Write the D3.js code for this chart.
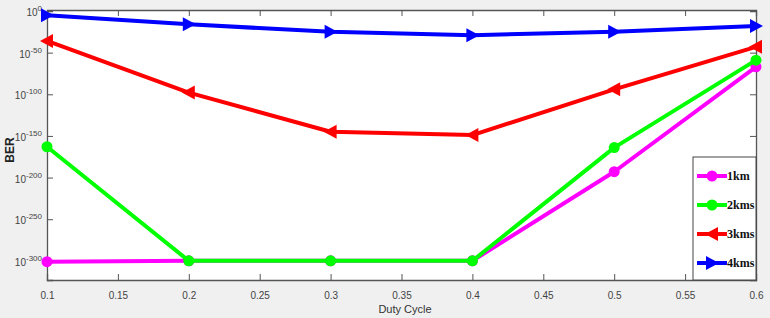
<!DOCTYPE html>
<html>
<head>
<meta charset="utf-8">
<script src="https://cdn.jsdelivr.net/npm/d3@7"></script>
<style>
  body { margin: 0; background: #f0f0f0; }
  svg { display: block; }
</style>
</head>
<body>
<div id="container"></div>
<script>
let w = 770;
let h = 318;

// duty cycle values
let duty = [0.1, 0.2, 0.3, 0.4, 0.5, 0.6];
// BER values as exponents of 10
let ber1km  = [-301, -300, -300, -300, -193, -67];
let ber2kms = [-163, -300, -300, -300, -164, -59];
let ber3kms = [-36, -98, -145, -149, -94, -43];
let ber4kms = [-5, -16, -25, -29, -25, -18];
let seriesNames = ["1km", "2kms", "3kms", "4kms"];
let xTicks = [0.1, 0.15, 0.2, 0.25, 0.3, 0.35, 0.4, 0.45, 0.5, 0.55, 0.6];
let yTicks = [0, -50, -100, -150, -200, -250, -300];

let padL = 47, padR = 756, padT = 10, padB = 280;

let viz = d3.select("#container").append("svg")
    .attr("width", w)
    .attr("height", h);

let x = d3.scaleLinear().domain([0.1, 0.6]).range([padL, padR]);
let y = d3.scaleLinear().domain([-323, 0]).range([padB, 11]);

// axes background
viz.append("rect")
    .attr("x", padL).attr("y", padT)
    .attr("width", padR - padL).attr("height", padB - padT)
    .attr("fill", "white");

let axisColor = "#555";

// bottom + top ticks
let xAxis = viz.append("g").attr("transform", "translate(0," + padB + ")")
    .call(d3.axisBottom(x).tickValues(xTicks).tickSize(-6).tickPadding(12)
        .tickFormat(d => String(+d.toFixed(2))));
let xTop = viz.append("g").attr("transform", "translate(0," + padT + ")")
    .call(d3.axisTop(x).tickValues(xTicks).tickSize(-6).tickFormat(""));
let yAxis = viz.append("g").attr("transform", "translate(" + padL + ",0)")
    .call(d3.axisLeft(y).tickValues(yTicks).tickSize(-6).tickFormat(""));
let yRight = viz.append("g").attr("transform", "translate(" + padR + ",0)")
    .call(d3.axisRight(y).tickValues(yTicks).tickSize(-6).tickFormat(""));

[xAxis, xTop, yAxis, yRight].forEach(function(a){
  a.selectAll("path").attr("stroke", axisColor).attr("stroke-width", 1.3);
  a.selectAll("line").attr("stroke", axisColor);
});
xAxis.selectAll("text")
    .attr("fill", "#444")
    .attr("font-family", "Arial, Liberation Sans, sans-serif")
    .attr("font-size", 10);

// y tick labels as 10^n
yTicks.forEach(function(t){
  let lab = viz.append("text")
      .attr("x", padL - 5)
      .attr("y", y(t) + 5)
      .attr("text-anchor", "end")
      .attr("fill", "#444")
      .attr("font-family", "Arial, Liberation Sans, sans-serif")
      .attr("font-size", 10);
  lab.append("tspan").text("10");
  lab.append("tspan").attr("dy", -5).attr("font-size", 8).text(String(t));
});

// axis labels
viz.append("text")
    .attr("transform", "translate(14,150) rotate(-90)")
    .attr("text-anchor", "middle")
    .attr("font-family", "Arial, Liberation Sans, sans-serif")
    .attr("font-size", 12)
    .attr("font-weight", "bold")
    .attr("fill", "#222")
    .text("BER");
viz.append("text")
    .attr("x", 405).attr("y", 313)
    .attr("text-anchor", "middle")
    .attr("font-family", "Arial, Liberation Sans, sans-serif")
    .attr("font-size", 11)
    .attr("fill", "#333")
    .text("Duty Cycle");

let series = [
  {name: seriesNames[0], values: ber1km, color: "#ff00ff", marker: "circle"},
  {name: seriesNames[1], values: ber2kms, color: "#00ff00", marker: "circle"},
  {name: seriesNames[2], values: ber3kms, color: "#ff0000", marker: "left"},
  {name: seriesNames[3], values: ber4kms, color: "#0000ff", marker: "right"}
];

let line = d3.line().x(d => x(d[0])).y(d => y(d[1]));

function drawMarker(g, type, cx, cy, color){
  if(type == "circle"){
    g.append("circle").attr("cx", cx).attr("cy", cy).attr("r", 5.5).attr("fill", color);
  } else if(type == "left"){
    g.append("path")
      .attr("d", "M" + (cx - 7) + "," + cy + "L" + (cx + 6) + "," + (cy - 7) + "L" + (cx + 6) + "," + (cy + 7) + "Z")
      .attr("fill", color);
  } else {
    g.append("path")
      .attr("d", "M" + (cx + 7) + "," + cy + "L" + (cx - 6) + "," + (cy - 7) + "L" + (cx - 6) + "," + (cy + 7) + "Z")
      .attr("fill", color);
  }
}

let plot = viz.append("g");
series.forEach(function(s){
  let pts = duty.map((d, i) => [d, s.values[i]]);
  plot.append("path")
      .datum(pts)
      .attr("d", line)
      .attr("fill", "none")
      .attr("stroke", s.color)
      .attr("stroke-width", 4)
      .attr("stroke-linejoin", "round");
  pts.forEach(function(p){
    drawMarker(plot, s.marker, x(p[0]), y(p[1]), s.color);
  });
});

// legend
let lg = viz.append("g");
lg.append("rect")
    .attr("x", 693).attr("y", 157)
    .attr("width", 63).attr("height", 123)
    .attr("fill", "white")
    .attr("stroke", "#444")
    .attr("stroke-width", 1);
series.forEach(function(s, i){
  let ly = 176 + i * 29;
  lg.append("line")
      .attr("x1", 697).attr("x2", 727)
      .attr("y1", ly).attr("y2", ly)
      .attr("stroke", s.color).attr("stroke-width", 4);
  drawMarker(lg, s.marker, 712, ly, s.color);
  lg.append("text")
      .attr("x", 727).attr("y", ly + 4)
      .attr("font-family", "Liberation Serif, Times New Roman, serif")
      .attr("font-weight", "bold")
      .attr("font-size", 12)
      .attr("fill", "#111")
      .text(s.name);
});
</script>
</body>
</html>
